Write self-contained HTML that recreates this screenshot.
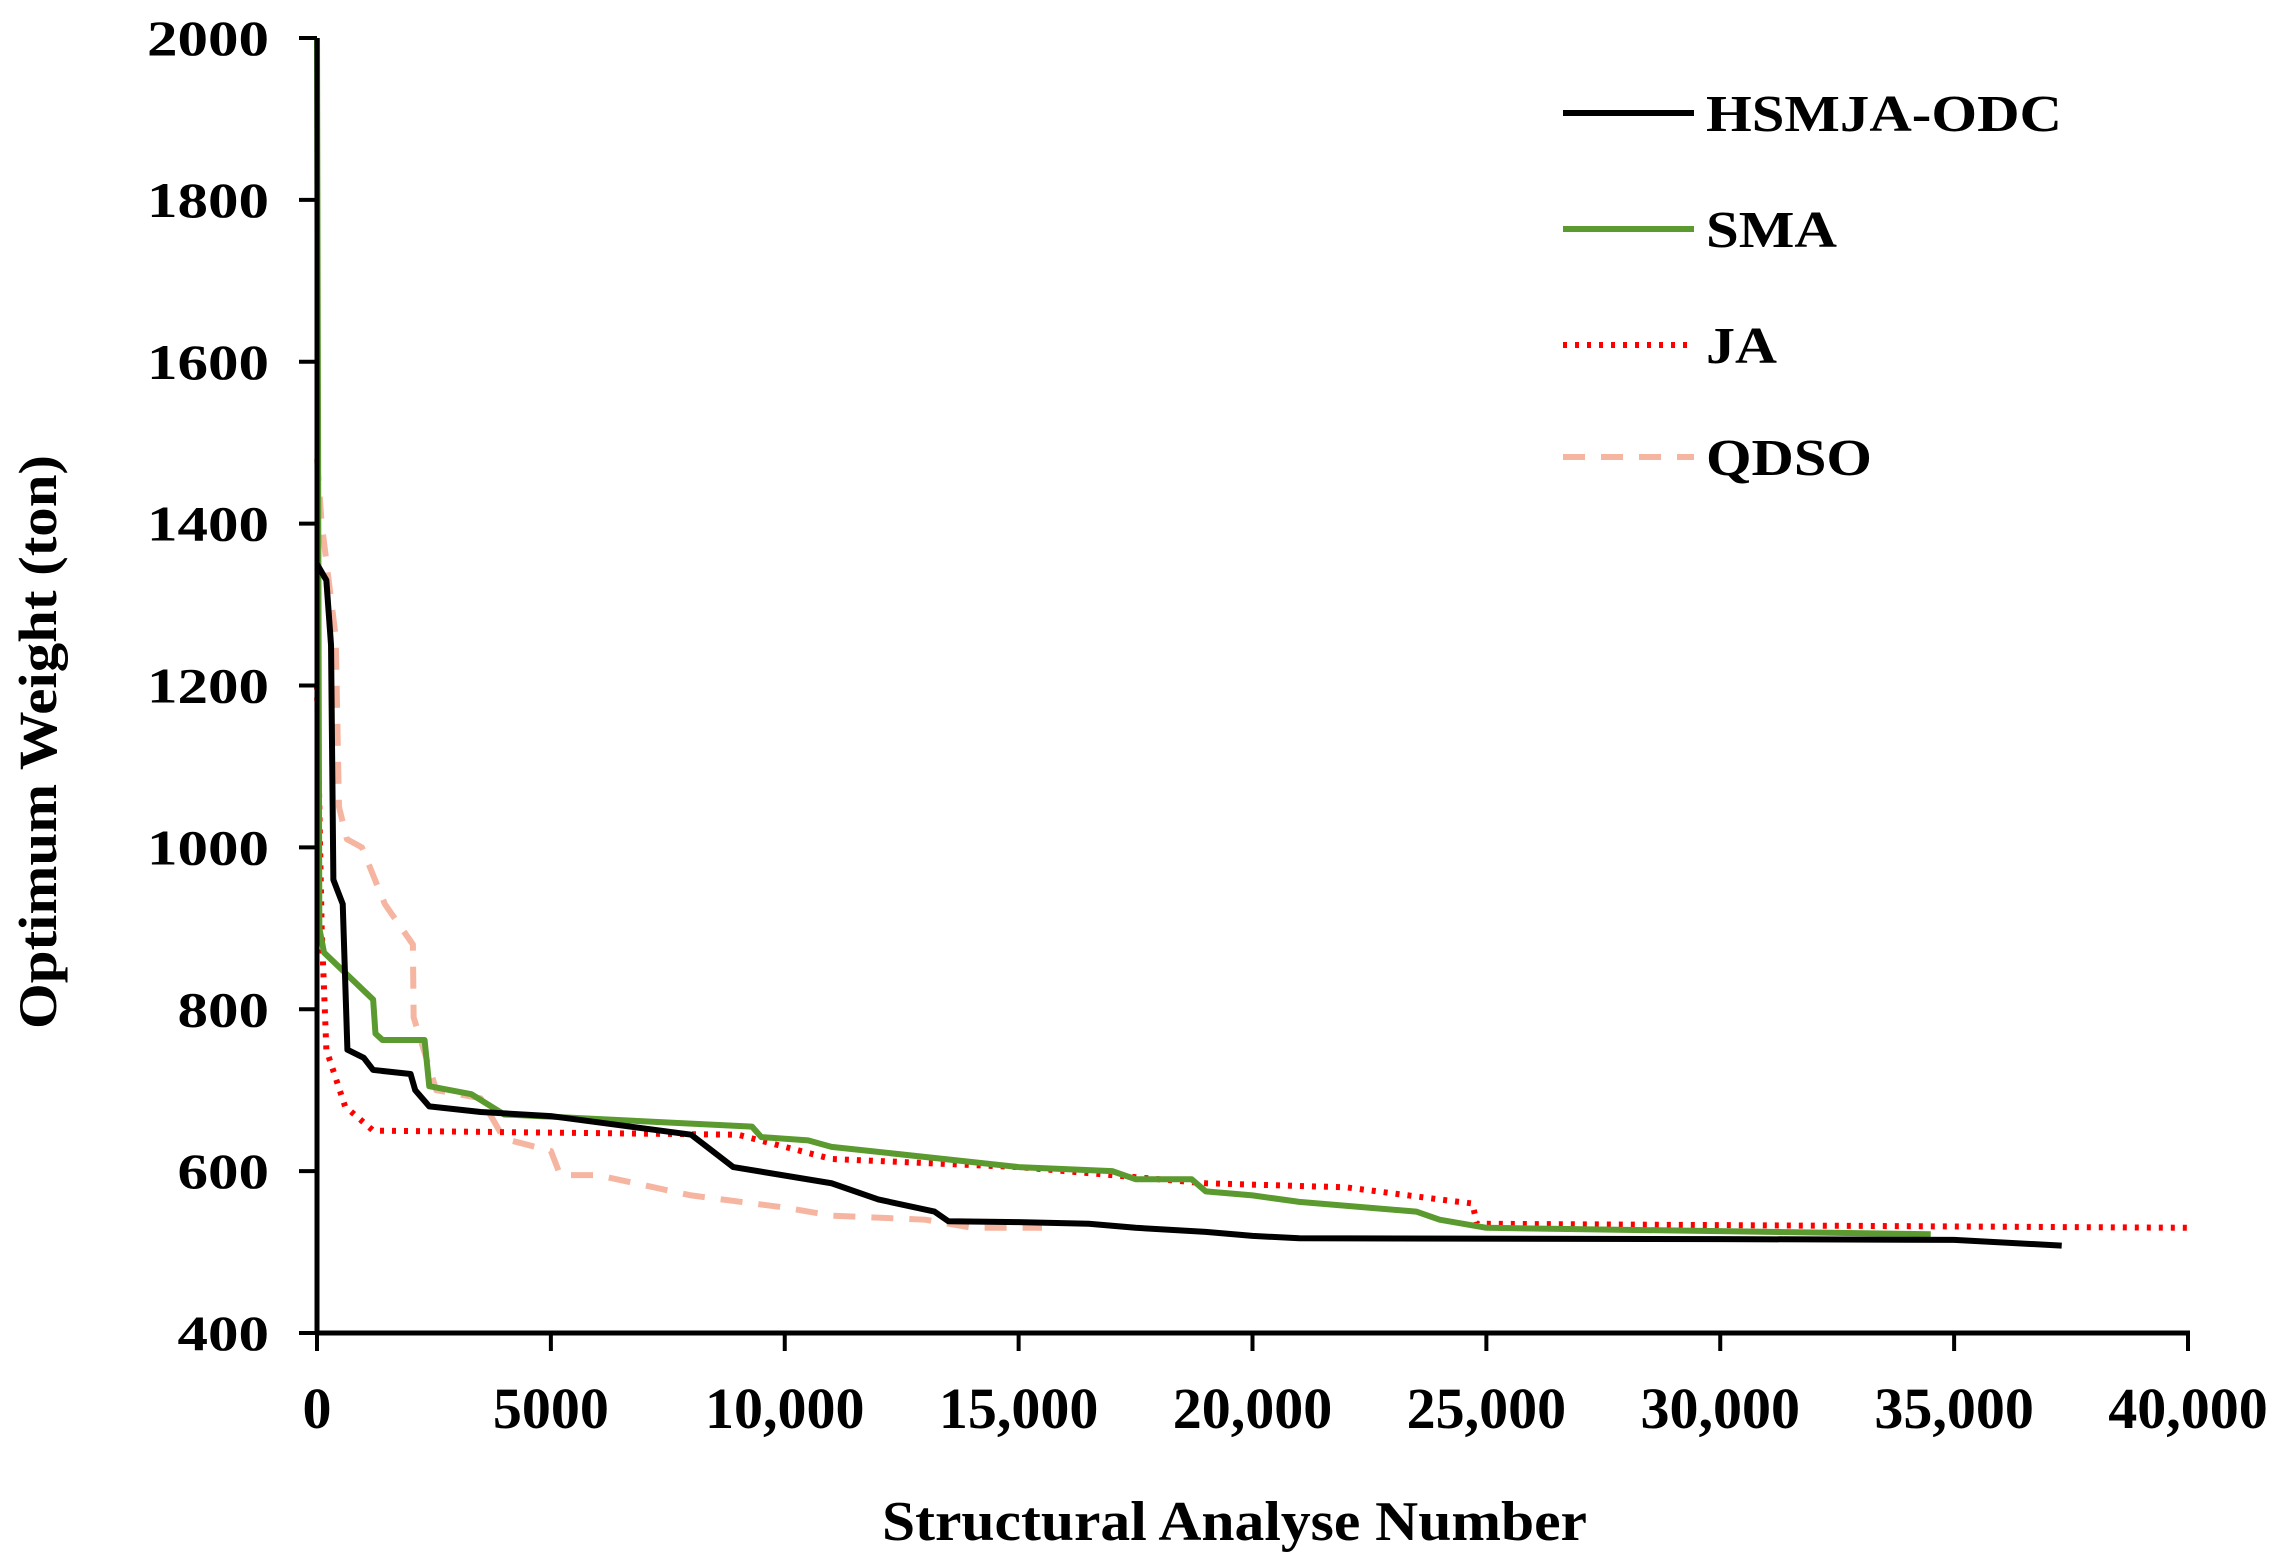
<!DOCTYPE html>
<html><head><meta charset="utf-8"><style>
html,body{margin:0;padding:0;background:#fff;}
svg{display:block;font-family:"Liberation Serif",serif;font-weight:bold;}
</style></head><body>
<svg id="chart" width="2280" height="1564" viewBox="0 0 2280 1564">
<g id="plot"></g>
<g id="axes"></g>
<g id="legend"></g>
<text x="882" y="1540" font-size="56" textLength="705" lengthAdjust="spacingAndGlyphs">Structural Analyse Number</text>
<text transform="translate(56,1029) rotate(-90)" font-size="54" textLength="574" lengthAdjust="spacingAndGlyphs">Optimum Weight (ton)</text>
</svg>
<script>
const xTicks=[0,5000,10000,15000,20000,25000,30000,35000,40000];
const xTickLabels=["0","5000","10,000","15,000","20,000","25,000","30,000","35,000","40,000"];
const yTicks=[400,600,800,1000,1200,1400,1600,1800,2000];
const seriesNames=["HSMJA-ODC","SMA","JA","QDSO"];
const hsmjaX=[0,200,300,350,550,650,1000,1200,2000,2100,2400,3500,5000,8000,8900,11000,12000,13200,13500,15000,16500,17500,19000,20000,21000,30000,35000,37300];
const hsmjaY=[1350,1330,1250,960,930,750,740,725,720,700,680,673,668,645,605,585,565,550,538,537,535,530,525,520,517,516,515,508];
const smaX=[0,50,150,1200,1250,1400,2300,2400,3300,4000,9300,9500,10500,11000,15000,17000,17500,18700,19000,20000,21000,23500,24000,25000,34500];
const smaY=[2000,900,870,812,770,762,762,705,695,670,655,642,638,630,605,600,590,590,575,570,562,550,540,530,522];
const jaX=[0,100,200,600,1200,9000,11000,15000,19000,22000,24000,24700,24800,40000];
const jaY=[1200,900,750,680,650,645,615,605,585,580,565,560,535,530];
const qdsoX=[0,100,400,470,640,960,1450,2050,2066,2550,3500,4000,5000,5200,6000,8000,10000,11000,13000,14000,15500];
const qdsoY=[1480,1400,1260,1050,1010,1000,930,880,790,700,690,640,625,595,595,570,555,545,540,530,530];
const styles=[
 {c:"#000",w:6,d:""},
 {c:"#5a9a2e",w:6,d:""},
 {c:"#ff0000",w:6,d:"4 8"},
 {c:"#f5b5a0",w:6,d:"22 16"}];
const X0=317,X1=2188,Y0=1333,Y1=38;
const sx=v=>X0+(v-0)/(40000-0)*(X1-X0);
const sy=v=>Y0-(v-400)/(2000-400)*(Y0-Y1);
const NS="http://www.w3.org/2000/svg";
function mk(t,a,p){const e=document.createElementNS(NS,t);for(const k in a)e.setAttribute(k,a[k]);p.appendChild(e);return e;}
const plot=document.getElementById('plot'),axes=document.getElementById('axes'),leg=document.getElementById('legend');
const data=[[hsmjaX,hsmjaY],[smaX,smaY],[jaX,jaY],[qdsoX,qdsoY]];
[3,2,1,0].forEach(i=>{
 const [xs,ys]=data[i];
 const p=mk('polyline',{points:xs.map((x,j)=>sx(x)+','+sy(ys[j])).join(' '),fill:'none',stroke:styles[i].c,'stroke-width':styles[i].w,'stroke-dasharray':styles[i].d,'stroke-linejoin':'round'},plot);
 
 
});
const ya=mk('line',{x1:X0,y1:Y1,x2:X0,y2:Y0,stroke:'#000','stroke-width':5},axes);


const xa=mk('line',{x1:X0-2,y1:Y0,x2:X1+2,y2:Y0,stroke:'#000','stroke-width':5},axes);


yTicks.forEach(v=>{
 const t=mk('line',{x1:X0-18,y1:sy(v),x2:X0,y2:sy(v),stroke:'#000','stroke-width':4},axes);
 
 
 const s=String(v);
 const w=s.length*30.5;
 const l=mk('text',{x:269-w,y:sy(v)+17,'font-size':50,textLength:w,lengthAdjust:'spacingAndGlyphs'},axes);
 l.textContent=s;
 
 
});
xTicks.forEach((v,i)=>{
 const t=mk('line',{x1:sx(v),y1:Y0,x2:sx(v),y2:Y0+18,stroke:'#000','stroke-width':4},axes);
 
 
 const l=mk('text',{x:sx(v),y:1428,'font-size':58,'text-anchor':'middle'},axes);
 l.textContent=xTickLabels[i];
 
 
});
const ly=[113,229,345,457];
const lw=[356,131,71,166];
seriesNames.forEach((n,i)=>{
 const g=mk('g',{},leg);
 
 
 mk('line',{x1:1563,y1:ly[i],x2:1694,y2:ly[i],stroke:styles[i].c,'stroke-width':6,'stroke-dasharray':styles[i].d},g);
 const t=mk('text',{x:1706,y:ly[i]+18,'font-size':52,textLength:lw[i],lengthAdjust:'spacingAndGlyphs'},g);
 t.textContent=n;
});
</script>
</body></html>
